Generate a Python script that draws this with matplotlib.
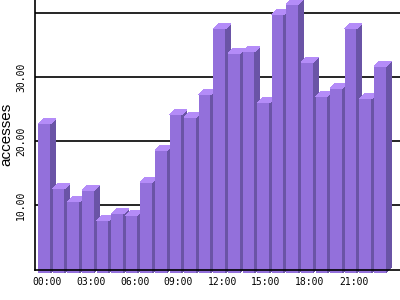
import matplotlib
matplotlib.use("Agg")
import matplotlib.pyplot as plt
from matplotlib.patches import Polygon

hours = [f"{h:02d}:00" for h in range(24)]
accesses = [22.7, 12.6, 10.6, 12.3, 7.6, 8.7, 8.5, 13.6, 18.6, 24.1, 23.7, 27.3,
            37.5, 33.7, 34.0, 26.0, 39.7, 41.3, 32.3, 27.0, 28.2, 37.6, 26.6, 31.7]
yticks = [10, 20, 30, 40]
ytick_labels = ["10.00", "20.00", "30.00", ""]
xtick_every = 3

front_c = "#9370db"
side_c = "#6a54a6"
top_c = "#b48cf8"

fig = plt.figure(figsize=(4, 3), dpi=100)
ax = fig.add_axes([0.0875, 0.101, 0.9125, 0.899])

n = len(accesses)
w = 0.82
xlim = (-0.226, -0.226 + 365 / 14.6)
ylim = (0, 42.0)
ax.set_xlim(*xlim)
ax.set_ylim(*ylim)

# depth in data units (pixels -> data)
px_x = (xlim[1] - xlim[0]) / 365.0
px_y = (ylim[1] - ylim[0]) / 270.0
dx = 5 * px_x
dy = 5 * px_y
base = -3.3 * px_y

for i, v in enumerate(accesses):
    ax.bar(i, v - base, bottom=base, width=w, align="edge", color=front_c,
           linewidth=0, zorder=3, clip_on=False, antialiased=False)
    side = Polygon([(i + w, base), (i + w + dx, base + dy), (i + w + dx, v + dy), (i + w, v)],
                   closed=True, facecolor=side_c, edgecolor="none", zorder=3,
                   clip_on=False, antialiased=False)
    top = Polygon([(i, v), (i + dx, v + dy), (i + w + dx, v + dy), (i + w, v)],
                  closed=True, facecolor=top_c, edgecolor="none", zorder=3,
                  clip_on=False, antialiased=False)
    ax.add_patch(side)
    ax.add_patch(top)

for t in yticks:
    ax.axhline(t, color="black", linewidth=1.2, zorder=1)

ax.set_yticks(yticks)
ax.set_yticklabels(ytick_labels, rotation=90, va="center",
                   fontfamily="DejaVu Sans Mono", fontsize=7)
xt = list(range(0, n, xtick_every))
ax.set_xticks([i + 0.596 for i in xt])
ax.set_xticklabels([hours[i] for i in xt], fontfamily="DejaVu Sans Mono", fontsize=7)
ax.tick_params(axis="both", length=0)
ax.tick_params(axis="y", pad=6.5)
ax.tick_params(axis="x", pad=5)

ax.set_ylabel("accesses", fontfamily="Liberation Sans", fontsize=11)
ax.yaxis.set_label_coords(-0.058, 0.5)

for s in ["top", "right"]:
    ax.spines[s].set_visible(False)
for s in ["left", "bottom"]:
    ax.spines[s].set_linewidth(1.2)
    ax.spines[s].set_zorder(5)

fig.savefig("out.png", dpi=100)
